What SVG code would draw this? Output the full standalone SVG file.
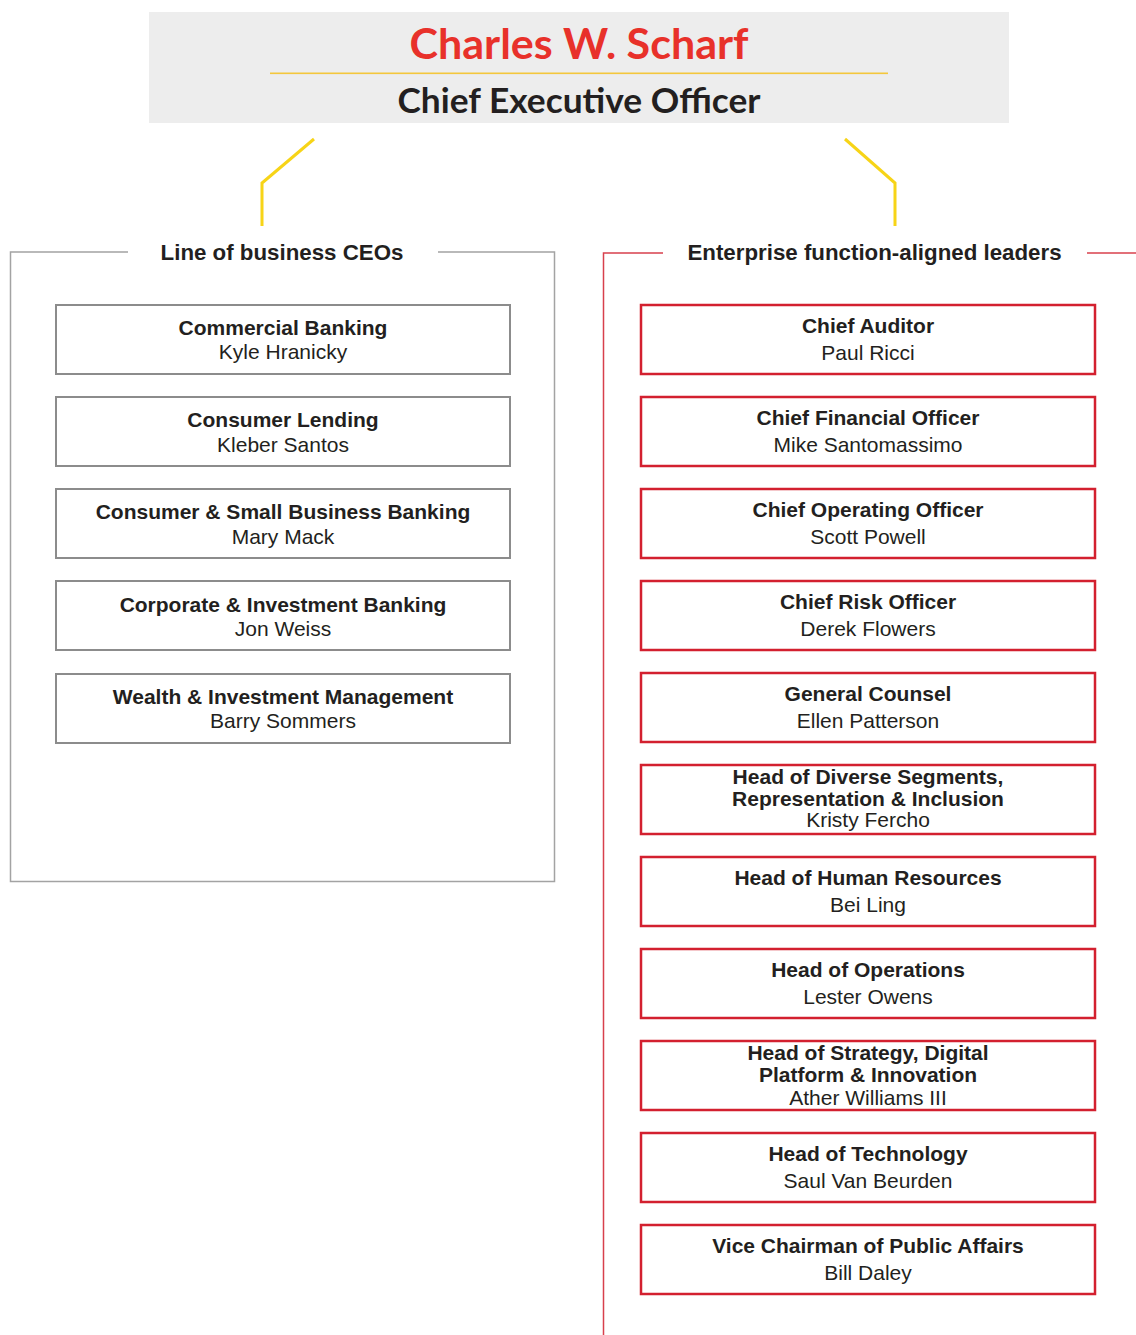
<svg xmlns="http://www.w3.org/2000/svg" width="1136" height="1335" viewBox="0 0 1136 1335">
<style>
text{font-family:"Liberation Sans",Arial,sans-serif;fill:#231f20;text-anchor:middle}
.t{font-weight:bold;font-size:21px}
.n{font-size:21px}
.h{font-weight:bold;font-size:22.3px}
.lb{fill:#fff;stroke:#8c8c8c;stroke-width:2}
.rb{fill:#fff;stroke:#d3202f;stroke-width:2.5}
.yl{fill:none;stroke:#f7d417;stroke-width:3}
</style>
<rect width="1136" height="1335" fill="#fff"/>
<g id="ceo">
<rect x="149" y="12" width="860" height="111" fill="#ededed"/>
<rect x="270" y="72.5" width="618" height="1.6" fill="#f4c73c"/>
<text x="579" y="59" font-weight="bold" font-size="42" style="fill:#e8312a;font-family:Lato,'Open Sans',sans-serif" textLength="339" lengthAdjust="spacingAndGlyphs">Charles W. Scharf</text>
<text x="579" y="113" font-weight="bold" font-size="34" style="font-family:Lato,'Open Sans',sans-serif" textLength="363" lengthAdjust="spacingAndGlyphs">Chief Executive Officer</text>
</g>
<g id="connectors">
<polyline class="yl" points="314,139 262,183 262,226"/>
<polyline class="yl" points="845,139 895,183 895,226"/>
<polyline points="128,252 10.5,252 10.5,881.5 554.5,881.5 554.5,252 438,252" fill="none" stroke="#a3a3a3" stroke-width="1.5"/>
<polyline points="663,253 603.5,253 603.5,1335" fill="none" stroke="#d8404d" stroke-width="1.5"/>
<line x1="1087" y1="253" x2="1136" y2="253" stroke="#d8404d" stroke-width="1.5"/>
</g>
<g id="heading-left"><text class="h" x="282" y="260">Line of business CEOs</text></g>
<g id="heading-right"><text class="h" x="874.5" y="260">Enterprise function-aligned leaders</text></g>

<g id="lob1"><rect class="lb" x="56" y="305" width="454" height="69"/><text class="t" x="283" y="335">Commercial Banking</text><text class="n" x="283" y="359">Kyle Hranicky</text></g>
<g id="lob2"><rect class="lb" x="56" y="397" width="454" height="69"/><text class="t" x="283" y="427">Consumer Lending</text><text class="n" x="283" y="452">Kleber Santos</text></g>
<g id="lob3"><rect class="lb" x="56" y="489" width="454" height="69"/><text class="t" x="283" y="519">Consumer &amp; Small Business Banking</text><text class="n" x="283" y="544">Mary Mack</text></g>
<g id="lob4"><rect class="lb" x="56" y="581" width="454" height="69"/><text class="t" x="283" y="612">Corporate &amp; Investment Banking</text><text class="n" x="283" y="636">Jon Weiss</text></g>
<g id="lob5"><rect class="lb" x="56" y="674" width="454" height="69"/><text class="t" x="283" y="704">Wealth &amp; Investment Management</text><text class="n" x="283" y="728">Barry Sommers</text></g>

<g id="ef1"><rect class="rb" x="641" y="305" width="454" height="69"/><text class="t" x="868" y="333">Chief Auditor</text><text class="n" x="868" y="360">Paul Ricci</text></g>
<g id="ef2"><rect class="rb" x="641" y="397" width="454" height="69"/><text class="t" x="868" y="425">Chief Financial Officer</text><text class="n" x="868" y="452">Mike Santomassimo</text></g>
<g id="ef3"><rect class="rb" x="641" y="489" width="454" height="69"/><text class="t" x="868" y="517">Chief Operating Officer</text><text class="n" x="868" y="544">Scott Powell</text></g>
<g id="ef4"><rect class="rb" x="641" y="581" width="454" height="69"/><text class="t" x="868" y="609">Chief Risk Officer</text><text class="n" x="868" y="636">Derek Flowers</text></g>
<g id="ef5"><rect class="rb" x="641" y="673" width="454" height="69"/><text class="t" x="868" y="701">General Counsel</text><text class="n" x="868" y="728">Ellen Patterson</text></g>
<g id="ef6"><rect class="rb" x="641" y="765" width="454" height="69"/><text class="t" x="868" y="784">Head of Diverse Segments,</text><text class="t" x="868" y="806">Representation &amp; Inclusion</text><text class="n" x="868" y="827">Kristy Fercho</text></g>
<g id="ef7"><rect class="rb" x="641" y="857" width="454" height="69"/><text class="t" x="868" y="885">Head of Human Resources</text><text class="n" x="868" y="912">Bei Ling</text></g>
<g id="ef8"><rect class="rb" x="641" y="949" width="454" height="69"/><text class="t" x="868" y="977">Head of Operations</text><text class="n" x="868" y="1004">Lester Owens</text></g>
<g id="ef9"><rect class="rb" x="641" y="1041" width="454" height="69"/><text class="t" x="868" y="1060">Head of Strategy, Digital</text><text class="t" x="868" y="1082">Platform &amp; Innovation</text><text class="n" x="868" y="1105">Ather Williams III</text></g>
<g id="ef10"><rect class="rb" x="641" y="1133" width="454" height="69"/><text class="t" x="868" y="1161">Head of Technology</text><text class="n" x="868" y="1188">Saul Van Beurden</text></g>
<g id="ef11"><rect class="rb" x="641" y="1225" width="454" height="69"/><text class="t" x="868" y="1253">Vice Chairman of Public Affairs</text><text class="n" x="868" y="1280">Bill Daley</text></g>
</svg>
